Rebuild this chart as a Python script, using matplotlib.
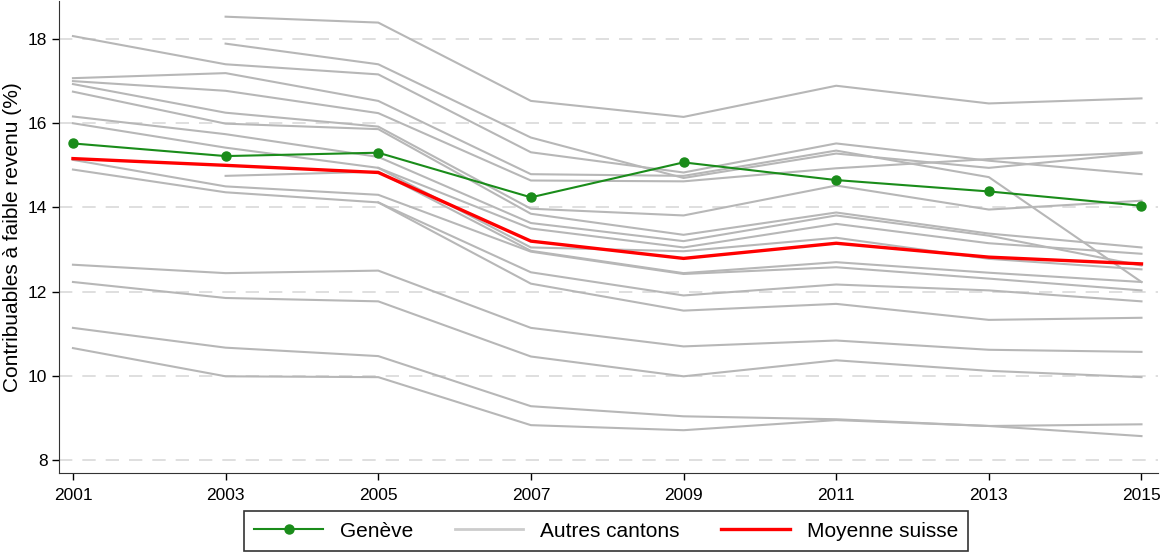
import numpy as np
import matplotlib
matplotlib.use("Agg")
import matplotlib.pyplot as plt
from matplotlib.lines import Line2D

years = [2001, 2003, 2005, 2007, 2009, 2011, 2013, 2015]

geneve = [15.52, 15.22, 15.30, 14.24, 15.07, 14.65, 14.38, 14.04]
moyenne_suisse = [15.16, 15.00, 14.83, 13.20, 12.79, 13.15, 12.82, 12.66]

nan = np.nan
# one row per other canton
autres_cantons = [
    [nan, 18.53, 18.39, 16.53, 16.15, 16.89, 16.47, 16.59],
    [nan, 17.89, 17.40, 15.66, 14.70, 15.28, 14.94, 15.29],
    [18.07, 17.40, 17.16, 15.31, 14.83, 15.52, 15.11, 14.79],
    [17.07, 17.19, 16.53, 14.79, 14.75, 15.35, 14.72, 12.23],
    [17.00, 16.77, 16.24, 14.64, 14.62, 14.93, 15.15, 15.31],
    [16.93, 16.25, 15.92, 13.97, 13.81, 14.52, 13.95, 14.16],
    [16.75, 15.99, 15.86, 13.85, 13.35, 13.88, 13.38, 13.05],
    [16.16, 15.74, 15.20, 13.63, 13.20, 13.81, 13.33, 12.62],
    [16.00, 15.42, 14.94, 13.50, 13.05, 13.61, 13.15, 12.90],
    [nan, nan, 14.94, 13.05, 12.96, 13.28, 12.78, 12.53],
    [nan, 14.75, 14.85, 12.97, 12.44, 12.70, 12.45, 12.23],
    [15.13, 14.50, 14.30, 12.95, 12.42, 12.58, 12.31, 12.03],
    [14.90, 14.36, 14.12, 12.46, 11.91, 12.17, 12.03, 11.77],
    [nan, nan, 14.12, 12.19, 11.55, 11.71, 11.33, 11.38],
    [12.64, 12.44, 12.50, 11.14, 10.70, 10.84, 10.62, 10.57],
    [12.23, 11.85, 11.77, 10.46, 9.99, 10.37, 10.12, 9.97],
    [11.14, 10.67, 10.47, 9.28, 9.04, 8.97, 8.81, 8.57],
    [10.66, 9.99, 9.97, 8.83, 8.71, 8.95, 8.81, 8.85],
]

y_ticks = [8, 10, 12, 14, 16, 18]

plt.rcParams["font.family"] = ["Liberation Sans", "DejaVu Sans"]

fig = plt.figure(figsize=(11.61, 5.56), dpi=100)
ax = fig.add_axes([0.051, 0.149, 0.946, 0.849])

for yt in y_ticks:
    ax.axhline(yt, color="#d9d9d9", lw=1.2, dashes=(8, 6), zorder=0)

for row in autres_cantons:
    ax.plot(years, row, color="#b7b7b7", lw=1.5, zorder=1)

ax.plot(years, moyenne_suisse, color="#ff0000", lw=2.4, zorder=3)
ax.plot(years, geneve, color="#1a8c1a", lw=1.5, marker="o", markersize=6.5, zorder=4)

ax.set_xlim(2000.82, 2015.21)
ax.set_ylim(7.69, 18.9)
ax.set_xticks(years)
ax.set_yticks(y_ticks)
ax.tick_params(axis="both", labelsize=12.5, length=5, width=1, direction="out")
ax.tick_params(axis="x", pad=6)
ax.set_ylabel("Contribuables à faible revenu (%)", fontsize=15, labelpad=4)

for side in ["top", "right"]:
    ax.spines[side].set_visible(False)
for side in ["left", "bottom"]:
    ax.spines[side].set_color("#333333")

handles = [
    Line2D([], [], color="#1a8c1a", lw=1.5, marker="o", markersize=6.5),
    Line2D([], [], color="#cccccc", lw=2),
    Line2D([], [], color="#ff0000", lw=2.4),
]
labels = ["Genève", "Autres cantons", "Moyenne suisse"]
leg = fig.legend(handles, labels, loc="lower center", bbox_to_anchor=(0.522, -0.01),
                 ncol=3, fontsize=15, frameon=True, fancybox=False,
                 edgecolor="black", handlelength=3.3, columnspacing=2.0,
                 borderpad=0.5)
leg.get_frame().set_linewidth(1.2)

fig.savefig("out.png", dpi=100)
